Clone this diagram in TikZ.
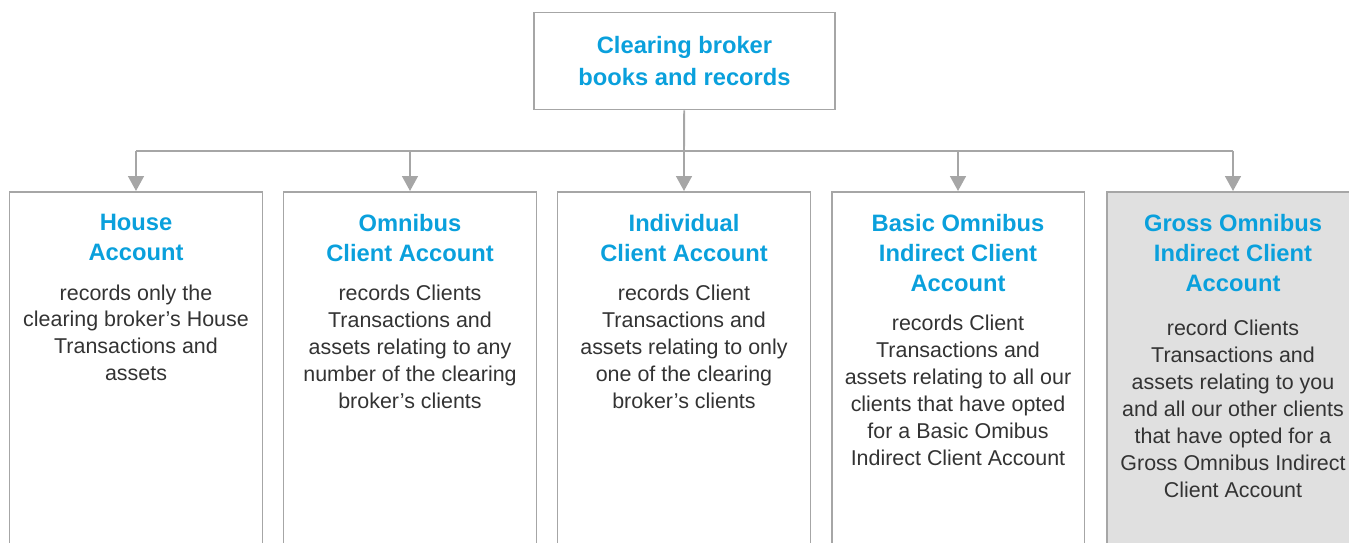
\documentclass[tikz,border=0pt]{standalone}
\usepackage{fontspec}
\setmainfont{Liberation Sans}
\usetikzlibrary{arrows.meta, positioning}
\definecolor{linegray}{HTML}{A6A6A6}
\definecolor{headblue}{HTML}{0AA0DC}
\definecolor{bodytext}{HTML}{333333}
\definecolor{shade}{HTML}{E0E0E0}
\newcommand{\headfont}{\fontsize{13.5}{17}\selectfont\bfseries}
\newcommand{\bodyfont}{\fontsize{12.2}{15.3}\selectfont}
\tikzset{%
	top/.style={draw=linegray, line width=1.1pt, minimum width=6.02cm, minimum height=1.94cm,%
		inner sep=0mm, align=center, font=\headfont, text=headblue},
	acct/.style={draw=linegray, line width=1.1pt, minimum width=5.06cm, minimum height=8cm, anchor=north},
	head/.style={anchor=north, align=center, inner sep=0mm, font=\headfont, text=headblue},
	txt/.style={below=0.46cm, align=center, inner sep=0mm, font=\bodyfont, text=bodytext},
	link/.style={draw=linegray, line width=1.1pt},
	sel/.style={link, -{Triangle[width=9pt, length=8.5pt]}}
}

\begin{document}
\begin{tikzpicture}[x=0.02cm, y=-0.02cm]
  \useasboundingbox (0,0) rectangle (1349,542);
  \clip (0,0) rectangle (1349,542);

  \node[top] (clearing) at (684.5,61) {Clearing broker\\[1.5pt]books and records};

  \node[acct] (house) at (136,191) {};
  \node[acct] (omni) at (410,191) {};
  \node[acct] (indiv) at (684,191) {};
  \node[acct] (basic) at (958,191) {};
  \node[acct, fill=shade] (gross) at (1233,191) {};

  \node[head] (houseH) at (136,214) {House\\Account};
  \node[txt] (houseT) at (houseH.south) {records only the\\clearing broker’s House\\Transactions and\\assets};
  \node[head] (omniH) at (410,214) {Omnibus\\Client Account};
  \node[txt] (omniT) at (omniH.south) {records Clients\\Transactions and\\assets relating to any\\number of the clearing\\broker’s clients};
  \node[head] (indivH) at (684,214) {Individual\\Client Account};
  \node[txt] (indivT) at (indivH.south) {records Client\\Transactions and\\assets relating to only\\one of the clearing\\broker’s clients};
  \node[head] (basicH) at (958,214) {Basic Omnibus\\Indirect Client\\Account};
  \node[txt] (basicT) at (basicH.south) {records Client\\Transactions and\\assets relating to all our\\clients that have opted\\for a Basic Omibus\\Indirect Client Account};
  \node[head] (grossH) at (1233,214) {Gross Omnibus\\Indirect Client\\Account};
  \node[txt, below=0.56cm] (grossT) at (grossH.south) {record Clients\\Transactions and\\assets relating to you\\and all our other clients\\that have opted for a\\Gross Omnibus Indirect\\Client Account};

  % bus from the top box to the five accounts
  \coordinate (bus) at (684,151);
  \draw[link] (clearing) -- (bus);
  \draw[link] (bus -| house.north) -- (bus -| gross.north);
  \foreach \acc in {house, omni, indiv, basic, gross}
    \draw[sel] (bus -| \acc.north) -- (\acc.north);
\end{tikzpicture}
\end{document}
